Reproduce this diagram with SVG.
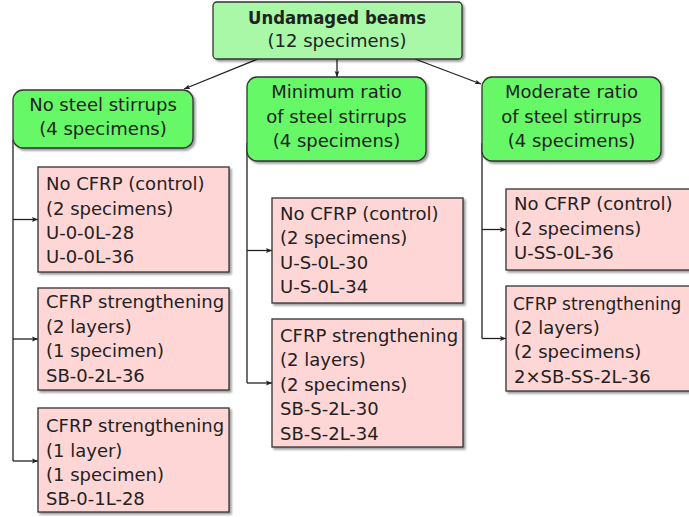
<svg xmlns="http://www.w3.org/2000/svg" width="689" height="517" viewBox="0 0 689 517">
<style>
text{font-family:"DejaVu Sans","Liberation Sans",sans-serif;font-size:18px;fill:#222}
.c{text-anchor:middle}
.b{font-weight:bold}
.top{fill:#a8f8a8;stroke:#333;stroke-width:1.3}
.grn{fill:#66f866;stroke:#333;stroke-width:1.3}
.pnk{fill:#ffd6d6;stroke:#333;stroke-width:1.3}
.ln{fill:none;stroke:#222;stroke-width:1.3}
</style>
<defs>
<marker id="ah" viewBox="0 0 10 10" refX="10" refY="5" markerWidth="6" markerHeight="6" orient="auto" markerUnits="userSpaceOnUse">
<path d="M0,1 L10,5 L0,9 L2,5 Z" fill="#222"/>
</marker>
<filter id="sh" x="-10%" y="-10%" width="130%" height="130%">
<feDropShadow dx="2" dy="2" stdDeviation="1.2" flood-color="#000" flood-opacity="0.4"/>
</filter>
</defs>
<g id="connectors">
<path class="ln" d="M258,59 L184,89" marker-end="url(#ah)"/>
<path class="ln" d="M337,59 L337,77" marker-end="url(#ah)"/>
<path class="ln" d="M415,59 L481,84" marker-end="url(#ah)"/>
<path class="ln" d="M13,140 V461"/>
<path class="ln" d="M13,219.5 H38" marker-end="url(#ah)"/>
<path class="ln" d="M13,339 H38" marker-end="url(#ah)"/>
<path class="ln" d="M13,461 H38" marker-end="url(#ah)"/>
<path class="ln" d="M247,143 V383"/>
<path class="ln" d="M247,250.5 H272" marker-end="url(#ah)"/>
<path class="ln" d="M247,383 H272" marker-end="url(#ah)"/>
<path class="ln" d="M482,143 V338.5"/>
<path class="ln" d="M482,229.5 H506" marker-end="url(#ah)"/>
<path class="ln" d="M482,338.5 H506" marker-end="url(#ah)"/>
</g>
<g id="root">
<rect class="top" x="213" y="2" width="249" height="57" rx="4" filter="url(#sh)"/>
<text class="c b" x="337" y="24" textLength="178" lengthAdjust="spacingAndGlyphs">Undamaged beams</text>
<text class="c" x="337" y="47">(12 specimens)</text>
</g>
<g id="no-stirrups">
<rect class="grn" x="13" y="90" width="180" height="58" rx="10" filter="url(#sh)"/>
<text class="c" x="103" y="111">No steel stirrups</text>
<text class="c" x="103" y="135">(4 specimens)</text>
</g>
<g id="min-ratio">
<rect class="grn" x="247" y="77" width="179" height="84" rx="10" filter="url(#sh)"/>
<text class="c" x="336.5" y="98">Minimum ratio</text>
<text class="c" x="336.5" y="123">of steel stirrups</text>
<text class="c" x="336.5" y="147">(4 specimens)</text>
</g>
<g id="mod-ratio">
<rect class="grn" x="482" y="77" width="179" height="84" rx="10" filter="url(#sh)"/>
<text class="c" x="571.5" y="98">Moderate ratio</text>
<text class="c" x="571.5" y="123">of steel stirrups</text>
<text class="c" x="571.5" y="147">(4 specimens)</text>
</g>
<g id="left-1">
<rect class="pnk" x="38" y="167" width="191" height="105" filter="url(#sh)"/>
<text x="46" y="190">No CFRP (control)</text>
<text x="46" y="215">(2 specimens)</text>
<text x="46" y="239">U-0-0L-28</text>
<text x="46" y="263">U-0-0L-36</text>
</g>
<g id="left-2">
<rect class="pnk" x="38" y="288" width="191" height="102" filter="url(#sh)"/>
<text x="46" y="308">CFRP strengthening</text>
<text x="46" y="333">(2 layers)</text>
<text x="46" y="357">(1 specimen)</text>
<text x="46" y="382">SB-0-2L-36</text>
</g>
<g id="left-3">
<rect class="pnk" x="38" y="408" width="191" height="104" filter="url(#sh)"/>
<text x="46" y="432">CFRP strengthening</text>
<text x="46" y="457">(1 layer)</text>
<text x="46" y="481">(1 specimen)</text>
<text x="46" y="505">SB-0-1L-28</text>
</g>
<g id="mid-1">
<rect class="pnk" x="272" y="198" width="191" height="105" filter="url(#sh)"/>
<text x="280" y="220">No CFRP (control)</text>
<text x="280" y="244">(2 specimens)</text>
<text x="280" y="269">U-S-0L-30</text>
<text x="280" y="293">U-S-0L-34</text>
</g>
<g id="mid-2">
<rect class="pnk" x="272" y="319" width="191" height="128" filter="url(#sh)"/>
<text x="280" y="342">CFRP strengthening</text>
<text x="280" y="366">(2 layers)</text>
<text x="280" y="391">(2 specimens)</text>
<text x="280" y="415">SB-S-2L-30</text>
<text x="280" y="440">SB-S-2L-34</text>
</g>
<g id="right-1">
<rect class="pnk" x="506" y="189" width="191" height="81" filter="url(#sh)"/>
<text x="514" y="210">No CFRP (control)</text>
<text x="514" y="235">(2 specimens)</text>
<text x="514" y="259">U-SS-0L-36</text>
</g>
<g id="right-2">
<rect class="pnk" x="506" y="286" width="191" height="105" filter="url(#sh)"/>
<text x="513" y="310" style="font-size:17px">CFRP strengthening</text>
<text x="514" y="334">(2 layers)</text>
<text x="514" y="358">(2 specimens)</text>
<text x="514" y="383">2×SB-SS-2L-36</text>
</g>
</svg>
